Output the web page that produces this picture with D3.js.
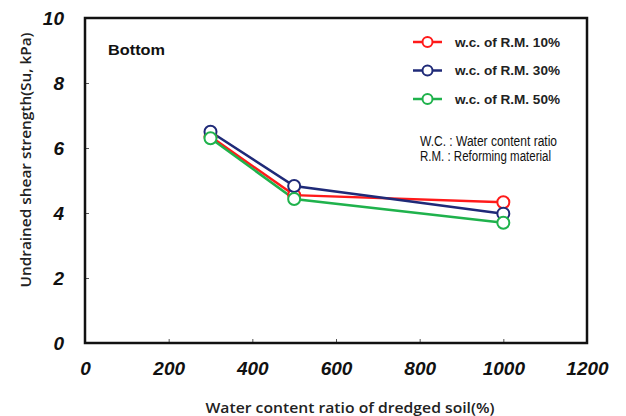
<!DOCTYPE html>
<html>
<head>
<meta charset="utf-8">
<script src="https://cdn.jsdelivr.net/npm/d3@7"></script>
<style>
  body { margin: 0; background: #fff; }
  svg { display: block; font-family: Arial, "Liberation Sans", sans-serif; }
</style>
</head>
<body>
<svg id="drawing_region"></svg>
<script>
// values
const seriesNames = ['w.c. of R.M. 10%', 'w.c. of R.M. 30%', 'w.c. of R.M. 50%'];
const waterContent = [300, 500, 1000];
const su10 = [6.35, 4.55, 4.33];
const su30 = [6.50, 4.83, 3.98];
const su50 = [6.30, 4.43, 3.70];
const xTicks = [0, 200, 400, 600, 800, 1000, 1200];
const yTicks = [0, 2, 4, 6, 8, 10];
const colors = ['#ff1a1a', '#1f2a78', '#1fb24c'];

var config = {
    parent: '#drawing_region',
    width: 626,
    height: 416,
    margin: {top:18, right:39, bottom:73, left:85}
};

const series = [su10, su30, su50].map( (vals, i) => ({
    name: seriesNames[i],
    color: colors[i],
    values: vals.map( (v, j) => ({x: waterContent[j], y: v}) )
}));

const svg = d3.select( config.parent )
    .attr('width', config.width)
    .attr('height', config.height);

const inner_width = config.width - config.margin.left - config.margin.right;
const inner_height = config.height - config.margin.top - config.margin.bottom;

const chart = svg.append('g')
    .attr('transform', `translate(${config.margin.left}, ${config.margin.top})`);

const xscale = d3.scaleLinear().domain([0, 1200]).range([0, inner_width]);
const yscale = d3.scaleLinear().domain([0, 10]).range([inner_height, 0]);

const xaxis = d3.axisBottom( xscale )
    .tickValues( xTicks )
    .tickFormat( d3.format('d') )
    .tickSizeInner(-4)
    .tickSizeOuter(0)
    .tickPadding(19);

const yaxis = d3.axisLeft( yscale )
    .tickValues( yTicks )
    .tickFormat( d3.format('d') )
    .tickSizeInner(-4)
    .tickSizeOuter(0)
    .tickPadding(21);

const xaxis_group = chart.append('g')
    .attr('transform', `translate(0, ${inner_height})`)
    .call( xaxis );

const yaxis_group = chart.append('g')
    .call( yaxis );

[xaxis_group, yaxis_group].forEach( g => {
    g.select('.domain').remove();
    g.selectAll('.tick line').attr('stroke', '#555').attr('stroke-width', 1);
    g.selectAll('.tick text')
        .attr('fill', '#111')
        .style('font-size', '19px')
        .style('font-weight', 'bold')
        .style('font-style', 'italic');
});

// plot frame
chart.append('rect')
    .attr('x', 0).attr('y', 0)
    .attr('width', inner_width).attr('height', inner_height)
    .attr('fill', 'none')
    .attr('stroke', '#111')
    .attr('stroke-width', 2.5);

const line = d3.line()
    .x( d => xscale(d.x) )
    .y( d => yscale(d.y) );

series.forEach( s => {
    chart.append('path')
        .datum(s.values)
        .attr('d', line)
        .attr('fill', 'none')
        .attr('stroke', s.color)
        .attr('stroke-width', 2.5);
});

series.forEach( s => {
    chart.selectAll(null)
        .data(s.values)
        .enter()
        .append('circle')
        .attr('cx', d => xscale(d.x))
        .attr('cy', d => yscale(d.y))
        .attr('r', 6)
        .attr('fill', '#fff')
        .attr('stroke', s.color)
        .attr('stroke-width', 2);
});

// legend
const legend = svg.append('g');
series.forEach( (s, i) => {
    const ly = 42 + i * 28.5;
    legend.append('line')
        .attr('x1', 413).attr('x2', 442)
        .attr('y1', ly).attr('y2', ly)
        .attr('stroke', s.color)
        .attr('stroke-width', 2.5);
    legend.append('circle')
        .attr('cx', 427.5).attr('cy', ly).attr('r', 5)
        .attr('fill', '#fff')
        .attr('stroke', s.color)
        .attr('stroke-width', 2);
    legend.append('text')
        .attr('x', 455).attr('y', ly)
        .attr('dy', '0.35em')
        .attr('fill', '#222')
        .attr('textLength', 105)
        .attr('lengthAdjust', 'spacingAndGlyphs')
        .style('font-size', '13.5px')
        .style('font-weight', 'bold')
        .text(s.name);
});

const notes = ['W.C. : Water content ratio', 'R.M. : Reforming material'];
const noteWidths = [137, 131];
notes.forEach( (t, i) => {
    svg.append('text')
        .attr('x', 420).attr('y', 141 + i * 15.5)
        .attr('dy', '0.35em')
        .attr('fill', '#111')
        .attr('textLength', noteWidths[i])
        .attr('lengthAdjust', 'spacingAndGlyphs')
        .style('font-size', '14px')
        .text(t);
});

svg.append('text')
    .attr('x', 108).attr('y', 50)
    .attr('dy', '0.35em')
    .attr('fill', '#111')
    .attr('textLength', 57)
    .attr('lengthAdjust', 'spacingAndGlyphs')
    .style('font-size', '15.5px')
    .style('font-weight', 'bold')
    .text('Bottom');

// axis titles
svg.append('text')
    .attr('x', 350).attr('y', 408)
    .attr('dy', '0.35em')
    .attr('text-anchor', 'middle')
    .attr('fill', '#222')
    .attr('textLength', 289)
    .attr('lengthAdjust', 'spacingAndGlyphs')
    .style('font-family', '"Open Sans", "Noto Sans", sans-serif')
    .style('font-size', '15px')
    .style('font-weight', 600)
    .text('Water content ratio of dredged soil(%)');

svg.append('text')
    .attr('transform', 'translate(26, 160) rotate(-90)')
    .attr('dy', '0.35em')
    .attr('text-anchor', 'middle')
    .attr('fill', '#222')
    .attr('textLength', 255)
    .attr('lengthAdjust', 'spacingAndGlyphs')
    .style('font-family', '"Open Sans", "Noto Sans", sans-serif')
    .style('font-size', '15px')
    .style('font-weight', 600)
    .text('Undrained shear strength(Su, kPa)');
</script>
</body>
</html>
